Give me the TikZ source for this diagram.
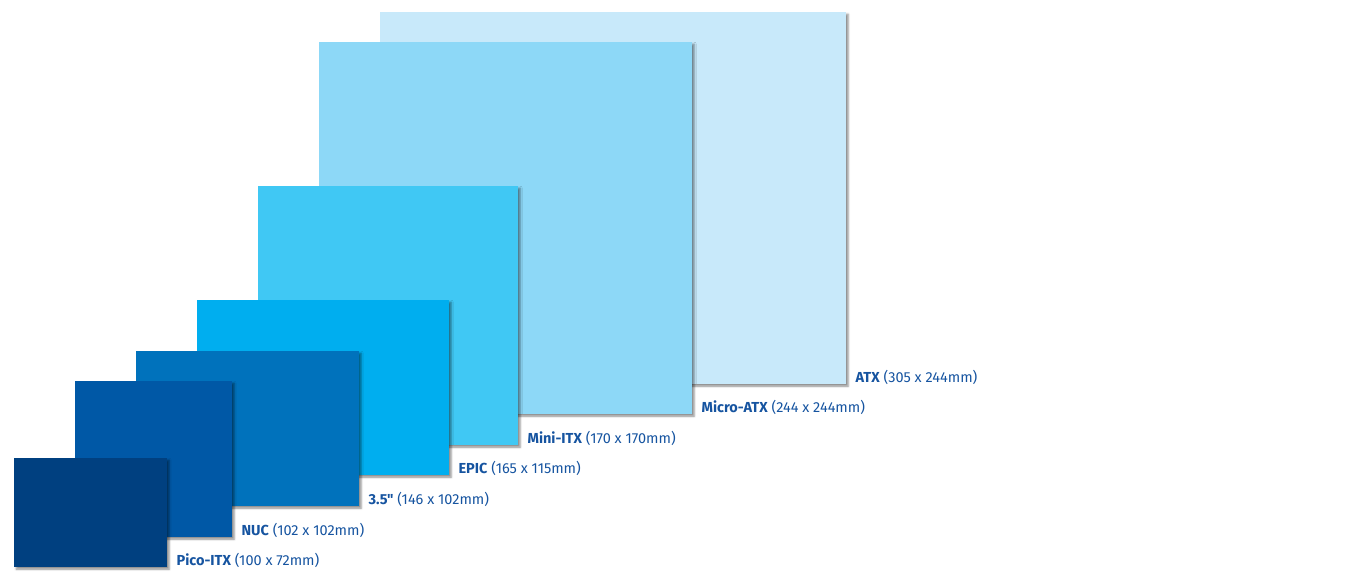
\documentclass[tikz,border=0pt]{standalone}
\usepackage{fontspec}
\setmainfont{Fira Sans}[Ligatures=TeXOff]
\usepackage{xcolor}
\usepackage{tikz}
\usetikzlibrary{positioning,shadows.blur}
\definecolor{atxc}{RGB}{200,233,250}
\definecolor{matxc}{RGB}{141,216,247}
\definecolor{mitxc}{RGB}{64,200,244}
\definecolor{epicc}{RGB}{0,174,239}
\definecolor{tfc}{RGB}{0,114,188}
\definecolor{nucc}{RGB}{0,88,166}
\definecolor{picoc}{RGB}{0,64,128}
\definecolor{lblc}{RGB}{22,84,160}

\begin{document}
\begin{tikzpicture}[x=1pt, y=-1pt,
  board/.style={inner sep=0pt, anchor=north west,
    blur shadow={shadow xshift=2pt, shadow yshift=-2pt, shadow blur radius=2pt, shadow opacity=45}},
  lbl/.style={anchor=base west, text=lblc, inner sep=0pt, font=\fontsize{14.5}{16}\selectfont}]
\useasboundingbox (0,0) rectangle (1353,577);
% boards, largest first
\node[board, fill=atxc,  minimum width=466pt, minimum height=372pt] (atx)  at (380,12)  {};
\node[board, fill=matxc, minimum width=373pt, minimum height=372pt] (matx) at (319,42)  {};
\node[board, fill=mitxc, minimum width=260pt, minimum height=259pt] (mitx) at (258,186) {};
\node[board, fill=epicc, minimum width=252pt, minimum height=175pt] (epic) at (197,300) {};
\node[board, fill=tfc,   minimum width=223pt, minimum height=155pt] (tf)   at (136,351) {};
\node[board, fill=nucc,  minimum width=157pt, minimum height=156pt] (nuc)  at (75,381)  {};
\node[board, fill=picoc, minimum width=153pt, minimum height=109pt] (pico) at (14,458)  {};
% labels
\node[lbl] (atxlbl)  at ([xshift=9pt, yshift=2pt]atx.south east)  {\textbf{ATX} (305 x 244mm)};
\node[lbl] (matxlbl) at ([xshift=9pt, yshift=2pt]matx.south east) {\textbf{Micro-ATX} (244 x 244mm)};
\node[lbl] (mitxlbl) at ([xshift=9pt, yshift=2pt]mitx.south east) {\textbf{Mini-ITX} (170 x 170mm)};
\node[lbl] (epiclbl) at ([xshift=9pt, yshift=2pt]epic.south east) {\textbf{EPIC} (165 x 115mm)};
\node[lbl] (tflbl)   at ([xshift=9pt, yshift=2pt]tf.south east)   {\textbf{3.5"} (146 x 102mm)};
\node[lbl] (nuclbl)  at ([xshift=9pt, yshift=2pt]nuc.south east)  {\textbf{NUC} (102 x 102mm)};
\node[lbl] (picolbl) at ([xshift=9pt, yshift=2pt]pico.south east) {\textbf{Pico-ITX} (100 x 72mm)};
\end{tikzpicture}
\end{document}
